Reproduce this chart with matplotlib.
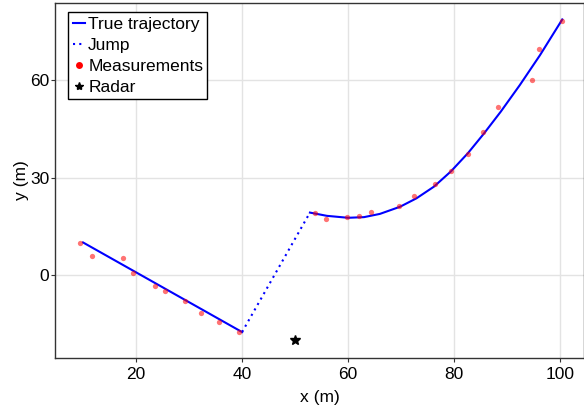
import matplotlib
matplotlib.use("Agg")
import matplotlib.pyplot as plt

plt.rcParams['font.family'] = ['Liberation Sans', 'DejaVu Sans']

# true trajectory, first leg (straight) and second leg (turn)
leg1_x = [10.0, 20.0, 30.0, 40.0]
leg1_y = [10.0, 0.8, -8.4, -17.6]
leg2_x = [52.8, 56.0, 60.0, 63.0, 66.0, 69.8, 72.9, 76.2, 79.4, 82.6, 85.6, 88.8, 92.4, 96.2, 100.4]
leg2_y = [19.2, 18.2, 17.6, 17.8, 18.8, 21.0, 23.6, 27.2, 31.9, 37.5, 43.5, 50.3, 58.5, 67.7, 78.7]

# noisy measurements
meas_x = [9.4, 11.7, 17.5, 19.4, 23.5, 25.5, 29.2, 32.3, 35.7, 39.5,
          53.7, 55.9, 59.8, 62.0, 64.4, 69.6, 72.5, 76.4, 79.4, 82.7,
          85.4, 88.2, 94.7, 96.1, 100.4]
meas_y = [9.9, 5.9, 5.1, 0.6, -3.3, -4.9, -8.1, -11.6, -14.4, -17.5,
          19.0, 17.2, 17.9, 18.2, 19.4, 21.1, 24.3, 28.0, 32.1, 37.2,
          44.1, 51.6, 59.9, 69.5, 78.2]

radar = (50.0, -20.0)

fig = plt.figure(figsize=(5.84, 4.12), dpi=100)
ax = fig.add_axes([0.095, 0.131, 0.905, 0.862])

ax.plot(leg1_x, leg1_y, color='blue', lw=1.5, label='True trajectory')
ax.plot([leg1_x[-1], leg2_x[0]], [leg1_y[-1], leg2_y[0]], color='blue', lw=1.5,
        ls=(0, (1, 2)), label='Jump')
ax.plot(leg2_x, leg2_y, color='blue', lw=1.5)
ax.plot(meas_x, meas_y, 'o', color='red', alpha=0.55, ms=3.8, mew=0, label='Measurements')
ax.plot([radar[0]], [radar[1]], '*', color='black', ms=7, label='Radar')

ax.set_xlim(4.8, 104.5)
ax.set_ylim(-25.6, 83.8)
ax.set_xticks([20, 40, 60, 80, 100])
ax.set_yticks([0, 30, 60])
ax.grid(True, color='#e3e3e3', lw=1)
ax.set_axisbelow(True)
for s in ax.spines.values():
    s.set_color('#333333')
    s.set_linewidth(1)
ax.tick_params(labelsize=12.5, length=3, pad=1.5, color='#333333')
ax.tick_params(axis='x', pad=3.5)
ax.set_xlabel('x (m)', fontsize=12.5, labelpad=6)
ax.set_ylabel('y (m)', fontsize=12.5, labelpad=1)

leg = ax.legend(loc='upper left', bbox_to_anchor=(0.024, 0.973), fontsize=12.5,
                handlelength=0.7, handletextpad=0.2, borderpad=0.25, labelspacing=0.34,
                borderaxespad=0, fancybox=False, edgecolor='black', framealpha=1)
leg.get_frame().set_linewidth(1)
leg.legend_handles[2].set_alpha(1)
leg.legend_handles[2].set_markersize(5)
leg.legend_handles[3].set_markersize(6)

fig.savefig('out.png', dpi=100)
